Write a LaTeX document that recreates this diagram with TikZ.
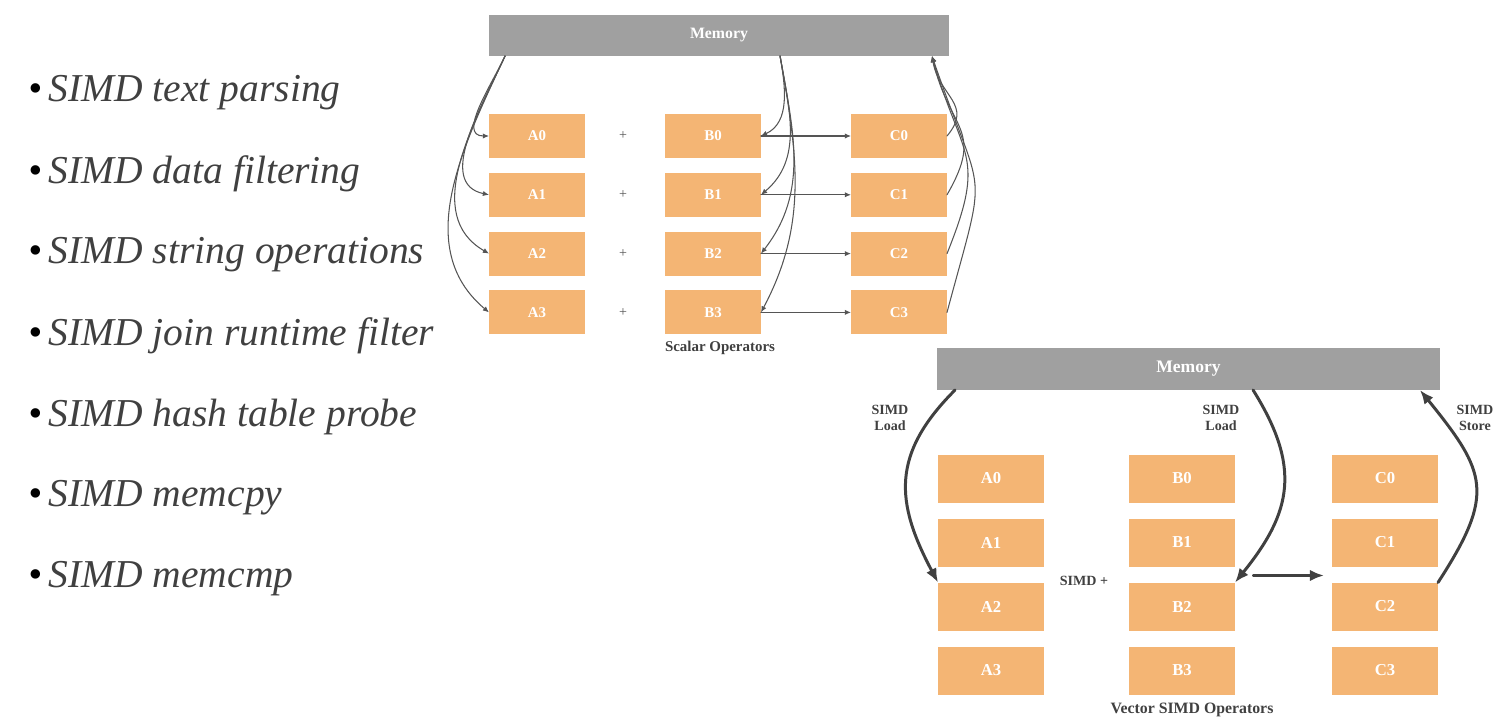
\documentclass[tikz,border=0pt]{standalone}
\usepackage{fontspec}
\setmainfont{Liberation Serif}
\usepackage{xcolor}
\usetikzlibrary{arrows.meta,calc,positioning}
\definecolor{simdorange}{RGB}{244,181,116}
\definecolor{simdgray}{RGB}{160,160,160}
\definecolor{simdink}{RGB}{64,64,64}
\definecolor{simdline}{RGB}{85,85,85}

\begin{document}
\begin{tikzpicture}[x=0.02cm, y=0.02cm, line cap=round, line join=round,
  memtop/.style={fill=simdgray, text=white, inner sep=0pt, outer sep=0pt,
    minimum width=9.2cm, minimum height=0.82cm, font=\fontsize{9}{10}\selectfont\bfseries},
  membot/.style={memtop, minimum width=10.06cm, minimum height=0.84cm, font=\fontsize{10}{11}\selectfont\bfseries},
  regtop/.style={fill=simdorange, text=white, inner sep=0pt, outer sep=0pt,
    minimum width=1.92cm, minimum height=0.88cm, font=\fontsize{8.5}{10}\selectfont\bfseries},
  regbot/.style={regtop, minimum width=2.12cm, minimum height=0.96cm, font=\fontsize{9.5}{11}\selectfont\bfseries},
  caption/.style={text=simdink, font=\fontsize{8.5}{10}\selectfont\bfseries},
  tag/.style={text=simdink, align=center, font=\fontsize{8}{9.5}\selectfont\bfseries},
  thinarrow/.style={simdline, line width=0.6pt, -{Latex[length=3.5pt,width=3pt]}},
  thickarrow/.style={simdink, line width=1.7pt, -{Latex[length=8pt,width=6.5pt]}},
  bulletitem/.style={anchor=west, text=simdink, font=\fontsize{22.5}{26}\selectfont\itshape}]
  \path[use as bounding box] (0,0) rectangle (1494,-720);

  % bullet list on the left
  \foreach \k/\txt in {1/SIMD text parsing, 2/SIMD data filtering, 3/SIMD string operations,
      4/SIMD join runtime filter, 5/SIMD hash table probe, 6/SIMD memcpy, 7/SIMD memcmp}
    \node[bulletitem] (item\k) at (22,{-93-81*(\k-1)}) {{\color{black}\textbullet}\,\txt};

  % scalar operators (top)
  \node[memtop] (memS) at (719,-35.5) {Memory};
  \coordinate (mA) at ($(memS.south west)+(16,0)$);
  \coordinate (mB) at ($(memS.south west)+(291,0)$);
  \coordinate (mC) at ($(memS.south east)+(-17,0)$);
  \foreach \i/\ain/\bin/\cout/\cin/\cl in {0/180/25/50/280/1.3, 1/168/40/60/283/1.4, 2/150/52/68/286/1.4, 3/140/62/75/289/1.6} {
    \node[regtop] (a\i) at (537,{-136-58.8*\i}) {A\i};
    \node[regtop] (b\i) at (713,{-136-58.8*\i}) {B\i};
    \node[regtop] (c\i) at (899,{-136-58.8*\i}) {C\i};
    \node[text=simdline, font=\fontsize{8}{10}\selectfont] (plus\i) at (623,{-136-58.8*\i}) {+};
    \draw[thinarrow] (mA) to[out=245, in=\ain] (a\i.west);
    \draw[thinarrow] (mB) to[out=280, in=\bin] (b\i.east);
    \draw[thinarrow] (b\i.east) -- (c\i.west);
    \draw[thinarrow] (c\i.east) to[out=\cout, in=\cin, looseness=\cl] (mC);
  }
  \node[caption] (capS) at (720,-348) {Scalar Operators};

  % vector SIMD operators (bottom)
  \node[membot] (memV) at (1188.5,-369) {Memory};
  \foreach \i in {0,...,3} {
    \node[regbot] (va\i) at (991,{-478.5-64*\i}) {A\i};
    \node[regbot] (vb\i) at (1182,{-478.5-64*\i}) {B\i};
    \node[regbot] (vc\i) at (1385,{-478.5-64*\i}) {C\i};
  }
  \node[text=simdink, font=\fontsize{8}{10}\selectfont\bfseries] (simdplus) at (1084,-581) {SIMD +};
  \coordinate (vmA) at ($(memV.south west)+(18,0)$);
  \coordinate (vmB) at ($(memV.south west)+(316,0)$);
  \coordinate (vmC) at ($(memV.south east)+(-20,0)$);
  \coordinate (addL) at ($(vb2.north east)+(19,7)$);
  \coordinate (addR) at ($(vc2.north west)+(-8,7)$);
  \draw[thickarrow] (vmA) to[out=225, in=118, looseness=1.2] (va2.north west);
  \draw[thickarrow] (vmB) to[out=302, in=51, looseness=1.2] (vb2.north east);
  \draw[thickarrow] (vc2.north east) to[out=57, in=309, looseness=1.4] (vmC);
  \draw[thickarrow, line width=2.2pt] (addL) -- (addR);
  \node[tag] (lblLoadA) at (890,-418) {SIMD\\Load};
  \node[tag] (lblLoadB) at (1221,-418) {SIMD\\Load};
  \node[tag] (lblStore) at (1475,-418) {SIMD\\Store};
  \node[caption, font=\fontsize{9}{11}\selectfont\bfseries] (capV) at (1192,-710) {Vector SIMD Operators};
\end{tikzpicture}
\end{document}
